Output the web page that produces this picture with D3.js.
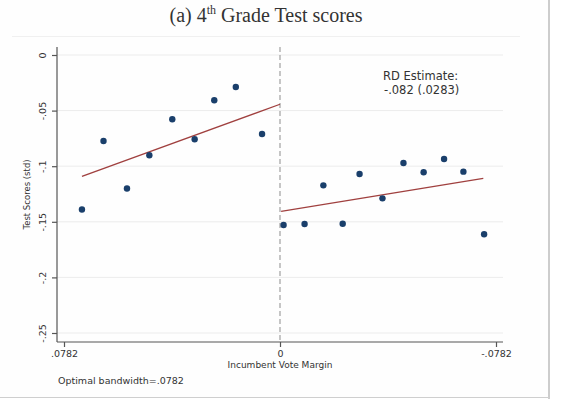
<!DOCTYPE html>
<html>
<head>
<meta charset="utf-8">
<script src="https://cdn.jsdelivr.net/npm/d3@7"></script>
<style>
  body { margin: 0; background: #fff; }
  svg { display: block; }
</style>
</head>
<body>
<svg id="rd" width="569" height="399"></svg>
<script>
// binned means, left of the cutoff
var leftX = [-0.0717, -0.0639, -0.0554, -0.0473, -0.0390, -0.0309, -0.0238, -0.0160, -0.0065];
var leftY = [-0.139, -0.0773, -0.120, -0.0902, -0.0578, -0.0758, -0.0407, -0.0288, -0.0710];
// binned means, right of the cutoff
var rightX = [0.0013, 0.0089, 0.0157, 0.0227, 0.0288, 0.0371, 0.0447, 0.0520, 0.0594, 0.0664, 0.0739];
var rightY = [-0.1529, -0.1520, -0.1172, -0.1517, -0.1070, -0.1289, -0.0971, -0.1055, -0.0935, -0.1049, -0.1612];
// linear fits (end points)
var fitLeft = [[-0.0717, -0.1092], [0, -0.0443]];
var fitRight = [[0.0004, -0.1406], [0.0736, -0.1109]];

var yTicks = [0, -0.05, -0.1, -0.15, -0.2, -0.25];
var yTickLabels = ["0", "-.05", "-.1", "-.15", "-.2", "-.25"];
var xTicks = [-0.0782, 0, 0.0782];
var xTickLabels = [".0782", "0", "-.0782"];

var svg = d3.select("#rd");
var font = "'DejaVu Sans', sans-serif";

// frame of the pasted figure
svg.append("rect").attr("x", 0).attr("y", 0).attr("width", 549).attr("height", 397).attr("fill", "#fefefe");
svg.append("line").attr("x1", 549).attr("x2", 549).attr("y1", 0).attr("y2", 399)
    .attr("stroke", "#bdbdbd").attr("stroke-width", 1.5);
svg.append("line").attr("x1", 0).attr("x2", 549).attr("y1", 397.5).attr("y2", 397.5)
    .attr("stroke", "#cfcfcf").attr("stroke-width", 1);
svg.append("line").attr("x1", 12).attr("x2", 520).attr("y1", 36.5).attr("y2", 36.5)
    .attr("stroke", "#f0f0f0").attr("stroke-width", 1);

// title
var title = svg.append("text")
    .attr("x", 266).attr("y", 22)
    .attr("text-anchor", "middle")
    .attr("font-family", "'Liberation Serif', 'DejaVu Serif', serif")
    .attr("font-size", 20)
    .attr("fill", "#333");
title.append("tspan").text("(a) 4");
title.append("tspan").attr("font-size", 12).attr("dy", -8).text("th");
title.append("tspan").attr("dy", 8).text(" Grade Test scores");

var x = d3.scaleLinear().domain([-0.0782, 0.0782]).range([64, 496]);
var y = d3.scaleLinear().domain([0, -0.25]).range([55, 333]);

var plotL = 57, plotR = 503, plotT = 47, plotB = 342;

// grid
svg.append("g").selectAll("line")
    .data(yTicks)
    .enter().append("line")
    .attr("x1", plotL).attr("x2", plotR)
    .attr("y1", function(d) { return y(d); })
    .attr("y2", function(d) { return y(d); })
    .attr("stroke", "#ececec").attr("stroke-width", 1);

// cutoff
svg.append("line")
    .attr("x1", x(0)).attr("x2", x(0))
    .attr("y1", plotT).attr("y2", plotB)
    .attr("stroke", "#a0a0a0").attr("stroke-width", 1.2)
    .attr("stroke-dasharray", "5,3");

// axes
var yAxis = svg.append("g")
    .attr("transform", "translate(" + plotL + ",0)")
    .call(d3.axisLeft(y).tickValues(yTicks).tickSize(5)
        .tickFormat(function(d, i) { return yTickLabels[i]; }));
yAxis.select(".domain").attr("d", "M0," + plotT + "V" + plotB);
yAxis.selectAll(".tick text")
    .attr("transform", "rotate(-90)")
    .attr("x", 0).attr("y", -11).attr("dy", 0)
    .attr("text-anchor", "middle");

var xAxis = svg.append("g")
    .attr("transform", "translate(0," + plotB + ")")
    .call(d3.axisBottom(x).tickValues(xTicks).tickSize(5)
        .tickFormat(function(d, i) { return xTickLabels[i]; }));
xAxis.select(".domain").attr("d", "M" + plotL + ",0H" + plotR);
xAxis.selectAll(".tick text").attr("y", 8);

svg.selectAll(".tick text").attr("font-family", font).attr("font-size", 9.5).attr("fill", "#333");
svg.selectAll(".domain, .tick line").attr("stroke", "#555").attr("stroke-width", 1.2);

// fits
var line = d3.line()
    .x(function(d) { return x(d[0]); })
    .y(function(d) { return y(d[1]); });

[fitLeft, fitRight].forEach(function(f) {
  svg.append("path")
      .attr("d", line(f))
      .attr("fill", "none")
      .attr("stroke", "#a0403f")
      .attr("stroke-width", 1.3);
});

// bin means
var pts = leftX.map(function(d, i) { return [d, leftY[i]]; })
    .concat(rightX.map(function(d, i) { return [d, rightY[i]]; }));

svg.append("g").selectAll("circle")
    .data(pts)
    .enter().append("circle")
    .attr("cx", function(d) { return x(d[0]); })
    .attr("cy", function(d) { return y(d[1]); })
    .attr("r", 3.2)
    .attr("fill", "#1a3f6b");

// labels
svg.append("text")
    .attr("transform", "translate(30," + ((plotT + plotB) / 2) + ") rotate(-90)")
    .attr("text-anchor", "middle")
    .attr("font-family", font).attr("font-size", 8.5).attr("fill", "#333")
    .text("Test Scores (std)");

svg.append("text")
    .attr("x", x(0)).attr("y", 368)
    .attr("text-anchor", "middle")
    .attr("font-family", font).attr("font-size", 9).attr("fill", "#333")
    .text("Incumbent Vote Margin");

svg.append("text")
    .attr("x", 58).attr("y", 384)
    .attr("font-family", font).attr("font-size", 9.5).attr("fill", "#333")
    .text("Optimal bandwidth=.0782");

var rd = svg.append("text")
    .attr("font-family", font).attr("font-size", 11.5).attr("fill", "#333");
rd.append("tspan").attr("x", 383).attr("y", 80).text("RD Estimate:");
rd.append("tspan").attr("x", 384).attr("y", 94).text("-.082 (.0283)");
</script>
</body>
</html>
